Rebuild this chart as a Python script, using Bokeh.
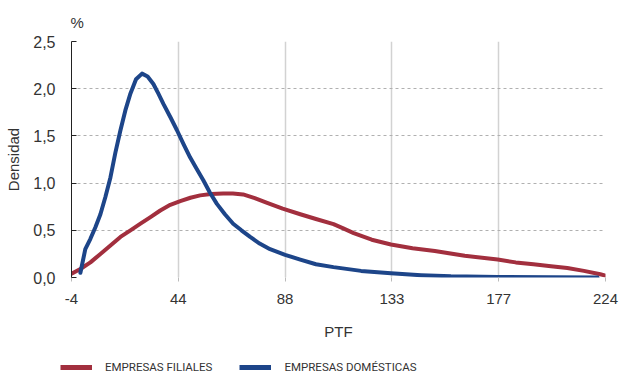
from bokeh.plotting import figure
from bokeh.models import Range1d, Legend, LegendItem, FixedTicker
from bokeh.layouts import column
from bokeh.embed import file_html
from bokeh.resources import INLINE
import numpy as np

# Tick labels of the PTF axis (evenly spaced on the chart)
ptf_ticks = [-4, 44, 88, 133, 177, 224]
y_ticks = [0.0, 0.5, 1.0, 1.5, 2.0, 2.5]
y_tick_labels = ["0,0", "0,5", "1,0", "1,5", "2,0", "2,5"]
series_names = ["EMPRESAS FILIALES", "EMPRESAS DOMÉSTICAS"]

# EMPRESAS FILIALES
filiales_ptf = [-4, 0, 4.5, 9.0, 13.5, 18.0, 22.5, 27.0, 31.5, 35.9, 40.4, 44.8, 49.0, 53.0,
                57.5, 62.5, 66.5, 70.7, 75.5, 80.6, 87.0, 94.4, 101.0, 108.4, 112.5, 116.9,
                124.5, 132.6, 141.5, 150.7, 163.0, 176.6, 184.5, 192.3, 200.0, 207.2,
                214.5, 221.7, 224]
filiales_den = [0.04, 0.09, 0.16, 0.25, 0.34, 0.43, 0.50, 0.57, 0.64, 0.71, 0.77, 0.81, 0.845, 0.87,
                0.885, 0.89, 0.89, 0.88, 0.84, 0.79, 0.73, 0.67, 0.62, 0.565, 0.52, 0.47,
                0.40, 0.35, 0.31, 0.28, 0.23, 0.19, 0.16, 0.14, 0.12, 0.10,
                0.07, 0.035, 0.02]

# EMPRESAS DOMÉSTICAS
domesticas_ptf = [0.0, 2.2, 4.5, 6.7, 9.0, 11.2, 13.5, 15.7, 18.0, 20.2, 22.5, 25.0, 27.7, 30.2,
                  32.8, 35.0, 37.3, 40.4, 43.4, 46.2, 48.9, 51.6, 54.3, 57.0, 59.9, 63.2,
                  66.6, 70.0, 73.6, 77.5, 81.8, 88.0, 94.4, 101.0, 108.4, 120.0, 132.6,
                  145.0, 157.3, 176.6, 200.0, 220.5]
domesticas_den = [0.05, 0.30, 0.41, 0.53, 0.67, 0.85, 1.06, 1.32, 1.56, 1.77, 1.95, 2.10, 2.16, 2.13,
                  2.05, 1.95, 1.84, 1.70, 1.56, 1.41, 1.27, 1.15, 1.03, 0.90, 0.78, 0.67,
                  0.57, 0.50, 0.43, 0.36, 0.30, 0.24, 0.19, 0.14, 0.11, 0.07, 0.045,
                  0.025, 0.012, 0.005, 0.003, 0.0]

tick_pos = list(range(len(ptf_ticks)))
fx = np.interp(filiales_ptf, ptf_ticks, tick_pos)
dx = np.interp(domesticas_ptf, ptf_ticks, tick_pos)

RED = "#a22f3e"
BLUE = "#1d4589"
TXT = "#333333"
FONT = "Liberation Sans"

p = figure(width=619, height=352, output_backend="svg", toolbar_location=None,
           x_range=Range1d(0, 5), y_range=Range1d(0, 2.5),
           min_border_left=71, min_border_right=14, min_border_top=41, min_border_bottom=75)
p.outline_line_color = None

r1 = p.line(fx, filiales_den, line_color=RED, line_width=4, line_join="round", line_cap="round")
r2 = p.line(dx, domesticas_den, line_color=BLUE, line_width=4, line_join="round", line_cap="round")

# title
p.title.text = "%"
p.title.align = "left"
p.title.offset = -1
p.title.standoff = 21
p.title.text_font = FONT
p.title.text_font_size = "15px"
p.title.text_font_style = "normal"
p.title.text_color = TXT

# x axis
p.xaxis.ticker = FixedTicker(ticks=tick_pos)
p.xaxis.major_label_overrides = {i: str(v) for i, v in enumerate(ptf_ticks)}
p.xaxis.axis_label = "PTF"
p.xaxis.axis_line_color = None
p.xaxis.major_tick_line_color = "#bbbbbb"
p.xaxis.major_tick_in = 0
p.xaxis.major_tick_out = 4
p.xaxis.minor_tick_line_color = None
p.xaxis.major_label_standoff = 12
p.xaxis.axis_label_standoff = 16
p.xaxis.major_label_text_font = FONT
p.xaxis.major_label_text_font_size = "15px"
p.xaxis.major_label_text_color = TXT
p.xaxis.axis_label_text_font = FONT
p.xaxis.axis_label_text_font_size = "15px"
p.xaxis.axis_label_text_font_style = "normal"
p.xaxis.axis_label_text_color = TXT

# y axis
p.yaxis.ticker = FixedTicker(ticks=y_ticks)
p.yaxis.major_label_overrides = {v: s for v, s in zip(y_ticks, y_tick_labels)}
p.yaxis.axis_label = "Densidad"
p.yaxis.axis_line_color = "#222222"
p.yaxis.axis_line_width = 1
p.yaxis.major_tick_line_color = "#222222"
p.yaxis.major_tick_in = 5
p.yaxis.major_tick_out = 0
p.yaxis.minor_tick_line_color = None
p.yaxis.major_label_standoff = 16
p.yaxis.axis_label_standoff = 8
p.yaxis.major_label_text_font = FONT
p.yaxis.major_label_text_font_size = "16px"
p.yaxis.major_label_text_color = TXT
p.yaxis.axis_label_text_font = FONT
p.yaxis.axis_label_text_font_size = "15px"
p.yaxis.axis_label_text_font_style = "normal"
p.yaxis.axis_label_text_color = TXT

# grids
p.xgrid.ticker = FixedTicker(ticks=tick_pos[1:])
p.xgrid.grid_line_color = "#d2d2d2"
p.xgrid.grid_line_width = 1.5
p.ygrid.ticker = FixedTicker(ticks=y_ticks)
p.ygrid.grid_line_color = "#b0b0b0"
p.ygrid.grid_line_dash = "3 3"
p.ygrid.grid_line_width = 1

# legend strip below the chart (series drawn out of view, only their legend shows)
lg = figure(width=619, height=22, output_backend="svg", toolbar_location=None,
            x_range=Range1d(-20, -10), y_range=Range1d(-20, -10),
            x_axis_location=None, y_axis_location=None,
            min_border=0, min_border_left=0, min_border_right=0,
            min_border_top=0, min_border_bottom=0)
lg.outline_line_color = None
lg.grid.visible = False
l1 = lg.line(fx, filiales_den, line_color=RED, line_width=5)
l2 = lg.line(dx, domesticas_den, line_color=BLUE, line_width=5)
legend = Legend(items=[LegendItem(label=series_names[0], renderers=[l1]),
                       LegendItem(label=series_names[1], renderers=[l2])],
                orientation="horizontal", location=(60, 0),
                border_line_color=None, background_fill_alpha=0,
                glyph_width=32, glyph_height=14, label_standoff=13, spacing=27,
                padding=0, margin=0,
                label_text_font="Roboto", label_text_font_size="11.5px",
                label_text_color=TXT)
lg.add_layout(legend, "center")

layout = column(p, column(lg, spacing=0), spacing=0)
open("out.html", "w").write(file_html(layout, INLINE))
